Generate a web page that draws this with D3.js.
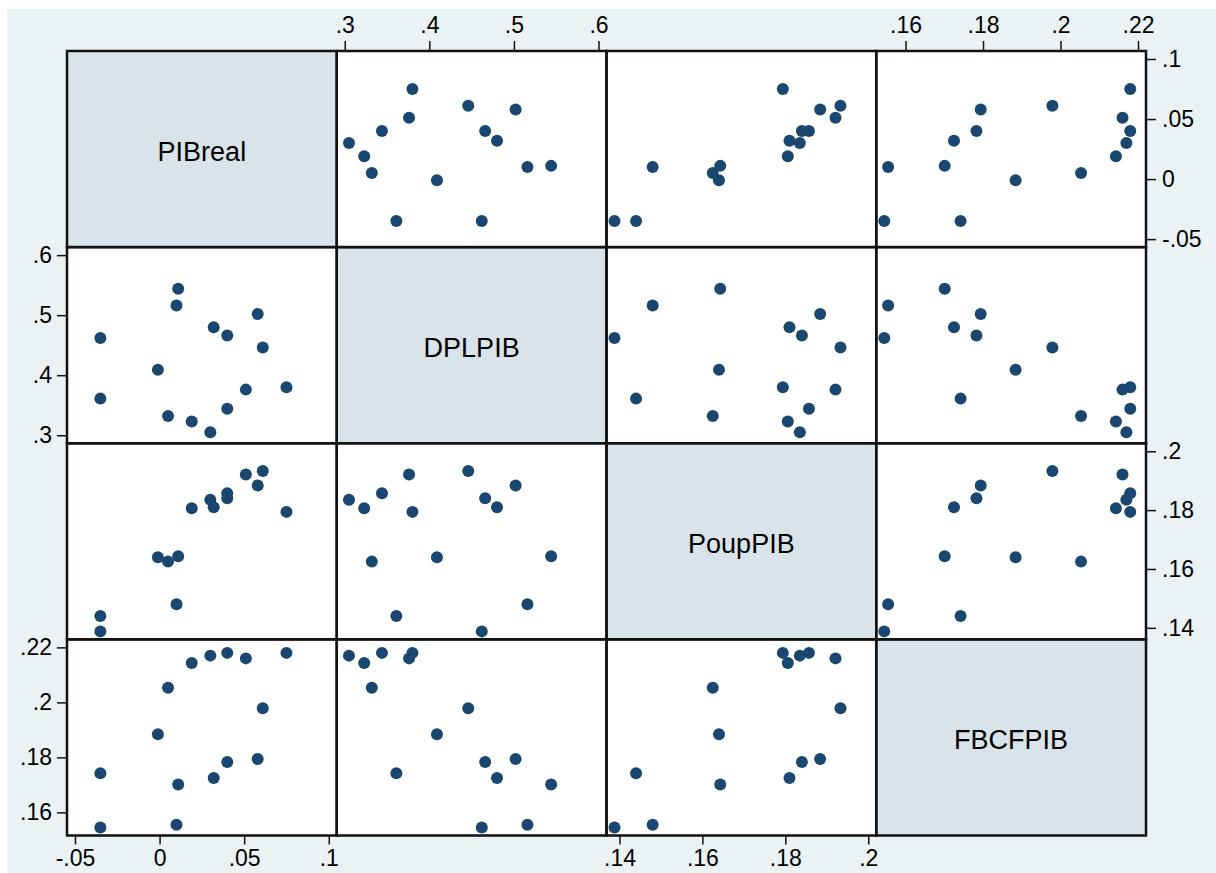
<!DOCTYPE html>
<html>
<head>
<meta charset="utf-8">
<script src="https://cdn.jsdelivr.net/npm/d3@7"></script>
<style>
  body { margin: 0; background: #fff; }
  text { font-family: "Liberation Sans", Arial, sans-serif; }
</style>
</head>
<body>
<div id="chart"></div>
<script>
const varNames = ["PIBreal", "DPLPIB", "PoupPIB", "FBCFPIB"];

const PIBreal = [0.075, 0.061, 0.058, 0.051, 0.040, 0.040, 0.032, 0.030, 0.019, 0.005, 0.010, 0.011, -0.001, -0.035, -0.035];
const DPLPIB  = [0.380, 0.446, 0.502, 0.376, 0.344, 0.466, 0.480, 0.305, 0.323, 0.332, 0.516, 0.544, 0.409, 0.361, 0.462];
const PoupPIB = [0.1794, 0.1933, 0.1884, 0.1921, 0.1857, 0.1840, 0.1810, 0.1835, 0.1806, 0.1625, 0.1480, 0.1643, 0.1640, 0.1440, 0.1388];
const FBCFPIB = [0.2180, 0.1979, 0.1794, 0.2160, 0.2180, 0.1783, 0.1725, 0.2170, 0.2143, 0.2053, 0.1555, 0.1701, 0.1884, 0.1742, 0.1545];

const pibTicks  = [-0.05, 0, 0.05, 0.1];
const dplTicks  = [0.3, 0.4, 0.5, 0.6];
const poupTicks = [0.14, 0.16, 0.18, 0.2];
const fbcfTicks = [0.16, 0.18, 0.2, 0.22];

const series = [PIBreal, DPLPIB, PoupPIB, FBCFPIB];
const tickSets = [pibTicks, dplTicks, poupTicks, fbcfTicks];

const W = 1216, H = 873;
const gLeft = 67, gTop = 51, gRight = 1146, gBottom = 835.5;
const cw = (gRight - gLeft) / 4, ch = (gBottom - gTop) / 4;
const inset = 8;

const BG = "#eaf2f3", DIAG = "#d8e4ea", MARK = "#1a476f";
const fmt = v => String(v).replace("0.", ".");

const svg = d3.select("#chart").append("svg").attr("width", W).attr("height", H);
svg.append("rect").attr("x", 7).attr("y", 9).attr("width", W - 7).attr("height", H - 9).attr("fill", BG);

// one x and one y scale per variable
const domains = series.map((s, i) => [
  Math.min(d3.min(s), d3.min(tickSets[i])),
  Math.max(d3.max(s), d3.max(tickSets[i]))
]);
const xs = domains.map((d, i) => d3.scaleLinear().domain(d).range([gLeft + i * cw + inset, gLeft + (i + 1) * cw - inset]));
const ys = domains.map((d, i) => d3.scaleLinear().domain(d).range([gTop + (i + 1) * ch - inset, gTop + i * ch + inset]));

for (let r = 0; r < 4; r++) {
  for (let c = 0; c < 4; c++) {
    const g = svg.append("g");
    g.append("rect")
      .attr("x", gLeft + c * cw).attr("y", gTop + r * ch)
      .attr("width", cw).attr("height", ch)
      .attr("fill", r === c ? DIAG : "#fff");
    if (r === c) {
      g.append("text")
        .attr("x", gLeft + c * cw + cw / 2).attr("y", gTop + r * ch + ch / 2 + 3)
        .attr("text-anchor", "middle").attr("dominant-baseline", "central")
        .attr("font-size", 27).attr("fill", "#000")
        .text(varNames[r]);
    } else {
      const xv = series[c], yv = series[r];
      g.selectAll("circle").data(d3.range(xv.length)).join("circle")
        .attr("cx", k => xs[c](xv[k]))
        .attr("cy", k => ys[r](yv[k]))
        .attr("r", 6)
        .attr("fill", MARK);
    }
  }
}

// panel borders on top
for (let r = 0; r < 4; r++) {
  for (let c = 0; c < 4; c++) {
    svg.append("rect")
      .attr("x", gLeft + c * cw).attr("y", gTop + r * ch)
      .attr("width", cw).attr("height", ch)
      .attr("fill", "none").attr("stroke", "#111").attr("stroke-width", 2.5);
  }
}

function styleAxis(g) {
  g.select(".domain").remove();
  g.selectAll(".tick line").attr("stroke", "#111").attr("stroke-width", 1.5);
  g.selectAll(".tick text").attr("font-size", 23).attr("fill", "#000")
    .style("font-family", '"Liberation Sans", Arial, sans-serif');
}

// x axes: top for DPLPIB and FBCFPIB, bottom for PIBreal and PoupPIB
[1, 3].forEach(i => {
  svg.append("g").attr("transform", `translate(0,${gTop})`)
    .call(d3.axisTop(xs[i]).tickValues(tickSets[i]).tickFormat(fmt).tickSize(10).tickPadding(8))
    .call(styleAxis);
});
[0, 2].forEach(i => {
  svg.append("g").attr("transform", `translate(0,${gBottom})`)
    .call(d3.axisBottom(xs[i]).tickValues(tickSets[i]).tickFormat(fmt).tickSize(9).tickPadding(5))
    .call(styleAxis);
});
// y axes: left for DPLPIB and FBCFPIB, right for PIBreal and PoupPIB
[1, 3].forEach(i => {
  svg.append("g").attr("transform", `translate(${gLeft},0)`)
    .call(d3.axisLeft(ys[i]).tickValues(tickSets[i]).tickFormat(fmt).tickSize(10).tickPadding(5))
    .call(styleAxis);
});
[0, 2].forEach(i => {
  svg.append("g").attr("transform", `translate(${gRight},0)`)
    .call(d3.axisRight(ys[i]).tickValues(tickSets[i]).tickFormat(fmt).tickSize(10).tickPadding(6))
    .call(styleAxis);
});
</script>
</body>
</html>
